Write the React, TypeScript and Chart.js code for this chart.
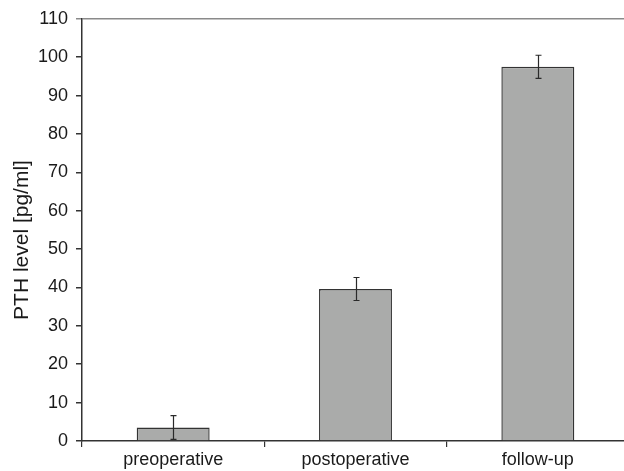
import React, { useEffect, useRef } from 'react';
import { Chart, registerables } from 'chart.js';

Chart.register(...registerables);

const categories = ['preoperative', 'postoperative', 'follow-up'];
const meanValues = [3.5, 39.6, 97.5];
const errorValues = [3.1, 3.0, 3.0];
const yTickValues = [0, 10, 20, 30, 40, 50, 60, 70, 80, 90, 100, 110];
const yAxisTitle = 'PTH level [pg/ml]';

const FONT = "'Liberation Sans', Arial, Helvetica, sans-serif";

const errorBarPlugin = {
  id: 'errorBars',
  afterDatasetsDraw(chart: any) {
    const meta = chart.getDatasetMeta(0);
    const yScale = chart.scales.y;
    const ctx = chart.ctx;
    ctx.save();
    ctx.strokeStyle = '#2a2a2a';
    ctx.lineWidth = 1.2;
    meta.data.forEach((bar: any, i: number) => {
      const x = Math.round(bar.x) + 0.5;
      const top = yScale.getPixelForValue(meanValues[i] + errorValues[i]);
      const bottom = yScale.getPixelForValue(meanValues[i] - errorValues[i]);
      const cap = 3;
      ctx.beginPath();
      ctx.moveTo(x, top);
      ctx.lineTo(x, bottom);
      ctx.moveTo(x - cap, top);
      ctx.lineTo(x + cap, top);
      ctx.moveTo(x - cap, bottom);
      ctx.lineTo(x + cap, bottom);
      ctx.stroke();
    });
    ctx.restore();
  },
};

const yTitlePlugin = {
  id: 'yTitle',
  afterDraw(chart: any) {
    const ctx = chart.ctx;
    ctx.save();
    ctx.translate(22, 240);
    ctx.rotate(-Math.PI / 2);
    ctx.font = `21px ${FONT}`;
    ctx.fillStyle = '#1a1a1a';
    ctx.textAlign = 'center';
    ctx.textBaseline = 'middle';
    ctx.fillText(yAxisTitle, 0, 0);
    ctx.restore();
  },
};

export default function App() {
  const canvasRef = useRef<HTMLCanvasElement | null>(null);

  useEffect(() => {
    const canvas = canvasRef.current;
    if (!canvas) return;
    const chart = new Chart(canvas, {
      type: 'bar',
      data: {
        labels: categories,
        datasets: [
          {
            data: meanValues,
            backgroundColor: '#aaabaa',
            borderColor: '#333333',
            borderWidth: 1.4,
            barPercentage: 0.4,
            categoryPercentage: 1,
          },
        ],
      },
      options: {
        responsive: false,
        animation: false,
        devicePixelRatio: 1,
        layout: { padding: { top: 15, right: 3, left: 0, bottom: 0 } },
        plugins: {
          legend: { display: false },
          tooltip: { enabled: false },
        },
        scales: {
          x: {
            type: 'category',
            grid: {
              offset: true,
              drawOnChartArea: false,
              drawTicks: true,
              tickLength: 6,
              color: '#333',
              lineWidth: 1.2,
            },
            border: { display: true, color: '#333', width: 1.5 },
            ticks: {
              color: '#1a1a1a',
              font: { family: FONT, size: 18 },
              padding: 2,
            },
            afterFit(scale: any) {
              scale.height = 30;
            },
          },
          y: {
            min: 0,
            max: 110,
            afterBuildTicks(scale: any) {
              scale.ticks = yTickValues.map((v) => ({ value: v }));
            },
            grid: {
              drawOnChartArea: true,
              drawTicks: true,
              tickLength: 6,
              lineWidth: 1.5,
              color: (c: any) => (c.tick && c.tick.value === 110 ? '#8a8a8a' : 'rgba(0,0,0,0)'),
              tickColor: (c: any) => (c.tick && c.tick.value === 110 ? '#8a8a8a' : '#333'),
            },
            border: { display: true, color: '#333', width: 1.5 },
            ticks: {
              color: '#1a1a1a',
              font: { family: FONT, size: 18 },
              padding: 8,
            },
            title: { display: false },
            afterFit(scale: any) {
              scale.width = 82;
            },
          },
        },
      },
      plugins: [errorBarPlugin, yTitlePlugin],
    });
    return () => chart.destroy();
  }, []);

  return (
    <div
      style={{
        position: 'fixed',
        left: 0,
        top: 0,
        width: 624,
        height: 471,
        overflow: 'hidden',
        background: '#fff',
      }}
    >
      <canvas ref={canvasRef} width={632} height={471} style={{ display: 'block' }} />
    </div>
  );
}
